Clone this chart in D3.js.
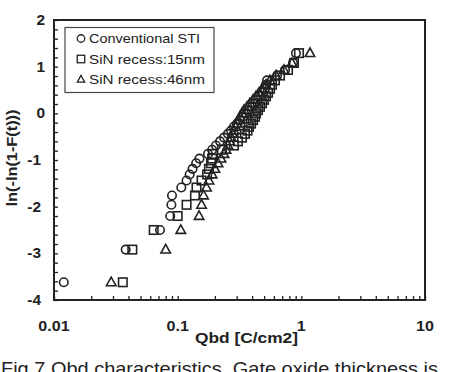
<!DOCTYPE html>
<html>
<head>
<meta charset="utf-8">
<script src="https://cdn.jsdelivr.net/npm/d3@7"></script>
<style>
  body { margin: 0; background: #fff; }
  svg { display: block; }
  text { font-family: Arial, "Liberation Sans", sans-serif; fill: #222; }
</style>
</head>
<body>
<div id="chart"></div>
<script>
// Weibull plot positions, ln(-ln(1-F))
const weibullY = [-3.62, -2.92, -2.50, -2.20, -1.96, -1.76, -1.59, -1.44, -1.31, -1.19,
  -1.07, -0.97, -0.87, -0.78, -0.69, -0.60, -0.52, -0.44, -0.37, -0.29,
  -0.22, -0.145, -0.073, 0.0, 0.07, 0.14, 0.215, 0.29, 0.365, 0.44,
  0.526, 0.613, 0.707, 0.81, 0.93, 1.08, 1.29];

// Qbd [C/cm2] per series
const qbdSTI = [0.012, 0.038, 0.072, 0.087, 0.089, 0.090, 0.107, 0.118, 0.125, 0.132,
  0.141, 0.150, 0.176, 0.190, 0.204, 0.220, 0.237, 0.255, 0.270, 0.285,
  0.302, 0.319, 0.338, 0.357, 0.377, 0.399, 0.422, 0.446, 0.472, 0.490,
  0.508, 0.518, 0.528, 0.636, 0.738, 0.856, 0.905];
const qbdRecess15 = [0.036, 0.043, 0.064, 0.100, 0.118, 0.138, 0.142, 0.156, 0.173, 0.179,
  0.186, 0.190, 0.193, 0.228, 0.285, 0.307, 0.331, 0.350, 0.367, 0.377,
  0.392, 0.407, 0.422, 0.430, 0.446, 0.463, 0.481, 0.499, 0.518, 0.538,
  0.558, 0.579, 0.612, 0.672, 0.780, 0.872, 0.957];
const qbdRecess46 = [0.029, 0.080, 0.106, 0.149, 0.156, 0.162, 0.171, 0.179, 0.190, 0.200,
  0.212, 0.224, 0.237, 0.246, 0.255, 0.263, 0.270, 0.278, 0.285, 0.294,
  0.302, 0.310, 0.319, 0.331, 0.344, 0.364, 0.384, 0.407, 0.430, 0.455,
  0.481, 0.518, 0.558, 0.624, 0.724, 0.840, 1.175];

const seriesNames = ["Conventional STI", "SiN recess:15nm", "SiN recess:46nm"];
const seriesShapes = ["circle", "square", "triangle"];
const xTickLabels = ["0.01", "0.1", "1", "10"];
const yTickLabels = [2, 1, 0, -1, -2, -3, -4];

const W = 474, H = 372;
const plot = { left: 54, right: 425, top: 20, bottom: 300 };
const ink = "#222";

const svg = d3.select("#chart").append("svg")
  .attr("width", W).attr("height", H);

const x = d3.scaleLog().domain([0.01, 10]).range([plot.left, plot.right]);
const y = d3.scaleLinear().domain([-4, 2]).range([plot.bottom, plot.top]);

// minor ticks, pointing inward
const xMinor = [];
[0.01, 0.1, 1].forEach(d => { for (let k = 1; k < 10; k++) xMinor.push(d * k); });
xMinor.push(10);
svg.append("g")
  .attr("transform", "translate(0," + plot.bottom + ")")
  .call(d3.axisBottom(x).tickValues(xMinor).tickSize(-4).tickFormat(""))
  .call(g => g.select(".domain").remove())
  .selectAll("line").attr("stroke", ink).attr("stroke-width", 1.3);

svg.append("g")
  .attr("transform", "translate(" + plot.left + ",0)")
  .call(d3.axisLeft(y).tickValues(d3.range(-4, 2.001, 0.2)).tickSize(-4).tickFormat(""))
  .call(g => g.select(".domain").remove())
  .selectAll("line").attr("stroke", ink).attr("stroke-width", 1.3);

// frame
svg.append("rect")
  .attr("x", plot.left).attr("y", plot.top)
  .attr("width", plot.right - plot.left).attr("height", plot.bottom - plot.top)
  .attr("fill", "none").attr("stroke", ink).attr("stroke-width", 2);

// tick labels (the scan is a bit wide, so stretch them horizontally)
svg.append("g").selectAll("text")
  .data(xTickLabels)
  .join("text")
  .attr("transform", d => "translate(" + x(+d) + "," + 331 + ") scale(1.15,1)")
  .attr("text-anchor", "middle")
  .attr("font-size", 14).attr("font-weight", "bold")
  .text(d => d);

svg.append("g").selectAll("text")
  .data(yTickLabels)
  .join("text")
  .attr("transform", d => "translate(" + (d < 0 ? 41 : 45) + "," + (y(d) + 5) + ") scale(1.1,1)")
  .attr("text-anchor", "end")
  .attr("font-size", 14).attr("font-weight", "bold")
  .text(d => d);

// axis titles
svg.append("text")
  .attr("x", 195).attr("y", 343)
  .attr("font-size", 14).attr("font-weight", "bold")
  .attr("textLength", 103).attr("lengthAdjust", "spacingAndGlyphs")
  .text("Qbd [C/cm2]");

svg.append("text")
  .attr("transform", "translate(17,158) rotate(-90)")
  .attr("text-anchor", "middle")
  .attr("font-size", 14).attr("font-weight", "bold")
  .attr("textLength", 97).attr("lengthAdjust", "spacingAndGlyphs")
  .text("ln(-ln(1-F(t)))");

// markers
function marker(sel, shape, s) {
  if (shape === "circle") {
    sel.append("circle").attr("r", s / 2);
  } else if (shape === "square") {
    sel.append("rect").attr("x", -s / 2).attr("y", -s / 2).attr("width", s).attr("height", s);
  } else {
    const h = s * 0.9;
    sel.append("path").attr("d", `M0,${-h * 0.6}L${s / 2},${h * 0.4}L${-s / 2},${h * 0.4}Z`);
  }
}

const allSeries = [qbdSTI, qbdRecess15, qbdRecess46];
allSeries.forEach((vals, si) => {
  const pts = vals.map((v, i) => ({ q: v, w: weibullY[i] }));
  svg.append("g")
    .attr("fill", "none").attr("stroke", ink).attr("stroke-width", 1.6)
    .selectAll("g")
    .data(pts)
    .join("g")
    .attr("transform", d => "translate(" + x(d.q) + "," + y(d.w) + ")")
    .each(function () { marker(d3.select(this), seriesShapes[si], si === 2 ? 9.5 : 8.5); });
});

// legend
const lg = svg.append("g");
lg.append("rect")
  .attr("x", 65).attr("y", 27.5).attr("width", 149).attr("height", 65)
  .attr("fill", "#fff").attr("stroke", "#444").attr("stroke-width", 1.2);
const legendLen = [111, 116, 116];
seriesNames.forEach((name, i) => {
  const cy = 38.5 + i * 20.5;
  const m = lg.append("g")
    .attr("transform", "translate(81," + cy + ")")
    .attr("fill", "none").attr("stroke", ink).attr("stroke-width", 1.3);
  marker(m, seriesShapes[i], 7.5);
  lg.append("text")
    .attr("x", 89).attr("y", cy + 4.5)
    .attr("font-size", 13)
    .attr("textLength", legendLen[i]).attr("lengthAdjust", "spacingAndGlyphs")
    .text(name);
});

// caption, cut off at the bottom edge as in the scan
svg.append("text")
  .attr("x", 1).attr("y", 375)
  .attr("font-family", "'Liberation Serif', 'Times New Roman', serif")
  .attr("font-size", 19)
  .attr("fill", "#333")
  .attr("textLength", 437).attr("lengthAdjust", "spacingAndGlyphs")
  .text("Fig.7 Qbd characteristics. Gate oxide thickness is");
</script>
</body>
</html>
